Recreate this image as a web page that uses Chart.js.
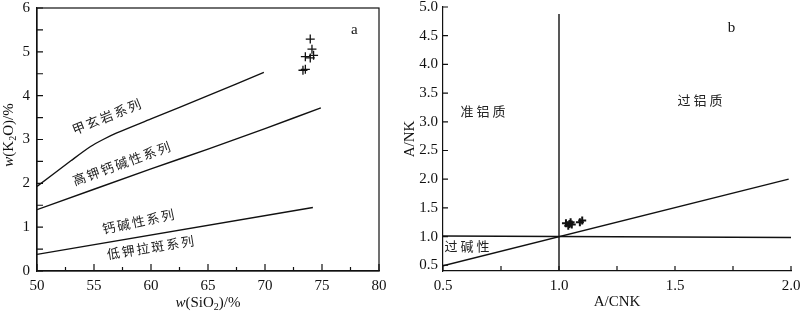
<!DOCTYPE html>
<html>
<head>
<meta charset="utf-8">
<script src="https://cdn.jsdelivr.net/npm/chart.js@4.4.0/dist/chart.umd.min.js"></script>
<style>
  html, body { margin: 0; padding: 0; background: #fff; }
  #wrap { position: relative; width: 800px; height: 312px; }
  .box { position: absolute; top: 0; width: 400px; height: 312px; }
</style>
</head>
<body>
<div id="wrap">
  <div class="box" style="left:0"><canvas id="chartA" width="400" height="312"></canvas></div>
  <div class="box" style="left:400px"><canvas id="chartB" width="400" height="312"></canvas></div>
</div>
<script>
// ---- chart a : w(K2O) vs w(SiO2) ----
const xTicksA = [50, 55, 60, 65, 70, 75, 80];
const xMinorA = [52.5, 57.5, 62.5, 67.5, 72.5, 77.5];
const yTicksA = [0, 1, 2, 3, 4, 5, 6];
const yMinorA = [0.5, 1.5, 2.5, 3.5, 4.5, 5.5];

const shoshoniteLine = [[50, 1.93], [53, 2.52], [54.7, 2.84], [55.8, 3.0], [57, 3.15], [60, 3.47], [65, 4.0], [69.9, 4.53]];
const highKLine = [[50, 1.40], [60, 2.33], [65, 2.78], [70, 3.25], [74.9, 3.72]];
const lowKLine = [[50, 0.38], [74.2, 1.45]];
const samplesA = [[73.97, 5.29], [74.12, 5.06], [73.54, 4.89], [74.26, 4.92], [73.97, 4.86], [73.33, 4.58], [73.54, 4.60]];
const seriesNamesA = ['甲玄岩系列', '高钾钙碱性系列', '钙碱性系列', '低钾拉斑系列'];

// ---- chart b : A/NK vs A/CNK ----
const xTicksB = [0.5, 1.0, 1.5, 2.0];
const xMinorB = [0.75, 1.25, 1.75];
const yTicksB = [0.5, 1.0, 1.5, 2.0, 2.5, 3.0, 3.5, 4.0, 4.5, 5.0];

const boundaryV = [[1.0, 0.4], [1.0, 4.88]];
const boundaryH = [[0.5, 1.01], [2.0, 0.985]];
const boundaryD = [[0.5, 0.49], [1.99, 2.0]];
const samplesB = [[1.03, 1.23], [1.04, 1.19], [1.045, 1.22], [1.05, 1.25], [1.055, 1.21], [1.09, 1.25], [1.1, 1.28]];
const fieldNamesB = ['准铝质', '过铝质', '过碱性'];

const toXY = arr => arr.map(p => ({ x: p[0], y: p[1] }));
const INK = '#111';
const SERIF = '"Liberation Serif", "Times New Roman", serif';
const CJK = '"Noto Sans CJK SC", sans-serif';

function drawRich(ctx, parts, cx, cy, rot) {
  ctx.save();
  ctx.translate(cx, cy);
  ctx.rotate(rot);
  ctx.textAlign = 'left';
  ctx.textBaseline = 'alphabetic';
  ctx.fillStyle = INK;
  let w = 0;
  parts.forEach(p => { ctx.font = p.font; p.w = ctx.measureText(p.text).width; w += p.w; });
  let cur = -w / 2;
  parts.forEach(p => { ctx.font = p.font; ctx.fillText(p.text, cur, 5 + (p.dy || 0)); cur += p.w; });
  ctx.restore();
}

function makeDecor(cfg) {
  return {
    id: 'decor',
    afterDraw(chart) {
      const { ctx, chartArea: a } = chart;
      const x = chart.scales.x, y = chart.scales.y;
      ctx.save();
      ctx.strokeStyle = INK;
      ctx.lineWidth = 1.2;
      if (cfg.box) ctx.strokeRect(a.left, a.top, a.right - a.left, a.bottom - a.top);
      ctx.beginPath();
      const tx = (vals, len) => vals.forEach(v => {
        const px = x.getPixelForValue(v);
        ctx.moveTo(px, a.bottom); ctx.lineTo(px, a.bottom - len);
      });
      const ty = (vals, len) => vals.forEach(v => {
        const py = y.getPixelForValue(v);
        ctx.moveTo(a.left, py); ctx.lineTo(a.left + len, py);
      });
      tx(cfg.xMajor, cfg.xLen[0]); tx(cfg.xMinor, cfg.xLen[1]);
      ty(cfg.yMajor, cfg.yLen[0]); ty(cfg.yMinor, cfg.yLen[1]);
      ctx.stroke();

      cfg.labels.forEach(l => {
        ctx.save();
        ctx.translate(x.getPixelForValue(l.x), y.getPixelForValue(l.y));
        ctx.rotate(l.angle * Math.PI / 180);
        ctx.font = l.font;
        ctx.fillStyle = l.color || '#222';
        ctx.textAlign = 'center';
        ctx.textBaseline = 'middle';
        ctx.letterSpacing = l.spacing || '0px';
        ctx.fillText(l.text, 0, 0);
        ctx.restore();
      });
      if (cfg.titles) cfg.titles(ctx, a);
      ctx.restore();
    }
  };
}

function lineSet(pts, tension) {
  return { type: 'line', data: toXY(pts), borderColor: INK, borderWidth: 1.4, pointRadius: 0,
           tension: tension || 0, fill: false, showLine: true };
}

function axis(min, max, ticks, fmt, size, pad, horizontal) {
  return {
    type: 'linear', min: min, max: max,
    afterBuildTicks: s => { s.ticks = ticks.map(v => ({ value: v })); },
    afterFit: s => {
      if (horizontal) s.height = size; else s.width = size;
      // keep the plot box where it is, labels may run past it
      s.paddingLeft = 0; s.paddingRight = 0; s.paddingTop = 0; s.paddingBottom = 0;
    },
    grid: { display: false, drawTicks: false },
    border: { display: true, color: INK, width: 1.2 },
    ticks: { padding: pad, color: INK, font: { family: SERIF, size: 15 }, callback: fmt, maxRotation: 0, autoSkip: false }
  };
}

// chart a
new Chart(document.getElementById('chartA'), {
  type: 'scatter',
  data: {
    datasets: [
      lineSet(shoshoniteLine, 0.3),
      lineSet(highKLine, 0.2),
      lineSet(lowKLine, 0),
      { data: toXY(samplesA), pointStyle: 'cross', pointRadius: 4.5, borderColor: INK, borderWidth: 1.3, showLine: false }
    ]
  },
  options: {
    responsive: false,
    animation: false,
    events: [],
    layout: { autoPadding: false, padding: { left: 0, top: 8, right: 21, bottom: 0 } },
    scales: {
      x: axis(50, 80, xTicksA, v => String(v), 41, 6, true),
      y: axis(0, 6, yTicksA, v => String(v), 37, 7, false)
    },
    plugins: { legend: { display: false }, tooltip: { enabled: false } }
  },
  plugins: [makeDecor({
    box: true,
    xMajor: xTicksA, xMinor: xMinorA, xLen: [7, 4],
    yMajor: yTicksA, yMinor: yMinorA, yLen: [6, 6],
    labels: [
      { text: seriesNamesA[0], x: 56.17, y: 3.53, angle: -22, font: '13px ' + CJK, spacing: '2px' },
      { text: seriesNamesA[1], x: 57.48, y: 2.46, angle: -20, font: '13px ' + CJK, spacing: '2px' },
      { text: seriesNamesA[2], x: 58.97, y: 1.13, angle: -12, font: '13px ' + CJK, spacing: '2px' },
      { text: seriesNamesA[3], x: 60.03, y: 0.54, angle: -9, font: '13px ' + CJK, spacing: '2px' },
      { text: 'a', x: 77.84, y: 5.5, angle: 0, font: '15px ' + SERIF, color: INK }
    ],
    titles: (ctx, a) => {
      const reg = '15px ' + SERIF, it = 'italic 15px ' + SERIF, sub = '10px ' + SERIF;
      drawRich(ctx, [{ text: 'w', font: it }, { text: '(SiO', font: reg }, { text: '2', font: sub, dy: 3 }, { text: ')/%', font: reg }],
               (a.left + a.right) / 2, 302, 0);
      drawRich(ctx, [{ text: 'w', font: it }, { text: '(K', font: reg }, { text: '2', font: sub, dy: 3 }, { text: 'O)/%', font: reg }],
               8, 135, -Math.PI / 2);
    }
  })]
});

// chart b
const axisBX = axis(0.5, 2.0, xTicksB, v => v.toFixed(1), 41, 6, true);
axisBX.title = { display: true, text: 'A/CNK', color: INK, font: { family: SERIF, size: 15 }, padding: { top: 0, bottom: 1 } };
const axisBY = axis(0.4, 5.0, yTicksB, v => v.toFixed(1), 43, 5, false);
axisBY.title = { display: true, text: 'A/NK', color: INK, font: { family: SERIF, size: 15 }, padding: { top: 1, bottom: 0 } };

new Chart(document.getElementById('chartB'), {
  type: 'scatter',
  data: {
    datasets: [
      lineSet(boundaryV),
      lineSet(boundaryH),
      lineSet(boundaryD),
      { data: toXY(samplesB), pointStyle: 'cross', pointRadius: 4, borderColor: INK, borderWidth: 2, showLine: false }
    ]
  },
  options: {
    responsive: false,
    animation: false,
    events: [],
    layout: { autoPadding: false, padding: { left: 0, top: 7, right: 9, bottom: 0 } },
    scales: { x: axisBX, y: axisBY },
    plugins: { legend: { display: false }, tooltip: { enabled: false } }
  },
  plugins: [makeDecor({
    box: false,
    xMajor: xTicksB, xMinor: xMinorB, xLen: [5, 5],
    yMajor: yTicksB, yMinor: [], yLen: [5, 5],
    labels: [
      { text: fieldNamesB[0], x: 0.679, y: 3.19, angle: 0, font: '13px ' + CJK, spacing: '3px' },
      { text: fieldNamesB[1], x: 1.614, y: 3.38, angle: 0, font: '13px ' + CJK, spacing: '3px' },
      { text: fieldNamesB[2], x: 0.61, y: 0.83, angle: 0, font: '13px ' + CJK, spacing: '3px' },
      { text: 'b', x: 1.743, y: 4.63, angle: 0, font: '15px ' + SERIF, color: INK }
    ]
  })]
});
</script>
</body>
</html>
